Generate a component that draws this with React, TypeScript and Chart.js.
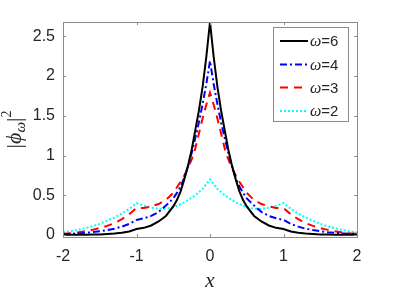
import { useEffect, useRef } from 'react';
import { Chart, registerables } from 'chart.js';

Chart.register(...registerables);

const xValues = [
  -2.0, -1.9, -1.8, -1.7, -1.6, -1.5, -1.4, -1.3, -1.2, -1.1, -1.0, -0.9, -0.8, -0.7, -0.6,
  -0.5, -0.45, -0.4, -0.35, -0.3, -0.25, -0.2, -0.15, -0.1, -0.05, 0,
  0.05, 0.1, 0.15, 0.2, 0.25, 0.3, 0.35, 0.4, 0.45, 0.5,
  0.6, 0.7, 0.8, 0.9, 1.0, 1.1, 1.2, 1.3, 1.4, 1.5, 1.6, 1.7, 1.8, 1.9, 2.0,
];

const omega6 = [
  0.002, 0.002, 0.003, 0.004, 0.005, 0.008, 0.012, 0.018, 0.028, 0.045, 0.075, 0.09, 0.12, 0.17, 0.24,
  0.36, 0.44, 0.55, 0.70, 0.87, 1.07, 1.32, 1.57, 1.87, 2.24, 2.68,
  2.24, 1.87, 1.57, 1.32, 1.07, 0.87, 0.70, 0.55, 0.44, 0.36,
  0.24, 0.17, 0.12, 0.09, 0.075, 0.045, 0.028, 0.018, 0.012, 0.008, 0.005, 0.004, 0.003, 0.002, 0.002,
];

const omega4 = [
  0.011, 0.015, 0.02, 0.027, 0.036, 0.048, 0.062, 0.08, 0.105, 0.14, 0.19, 0.21, 0.24, 0.29, 0.37,
  0.46, 0.53, 0.61, 0.72, 0.86, 1.03, 1.22, 1.42, 1.65, 1.9, 2.19,
  1.9, 1.65, 1.42, 1.22, 1.03, 0.86, 0.72, 0.61, 0.53, 0.46,
  0.37, 0.29, 0.24, 0.21, 0.19, 0.14, 0.105, 0.08, 0.062, 0.048, 0.036, 0.027, 0.02, 0.015, 0.011,
];

const omega3 = [
  0.016, 0.023, 0.033, 0.047, 0.065, 0.088, 0.115, 0.15, 0.2, 0.26, 0.34, 0.34, 0.36, 0.39, 0.44,
  0.53, 0.6, 0.67, 0.75, 0.84, 0.95, 1.09, 1.28, 1.47, 1.64, 1.79,
  1.64, 1.47, 1.28, 1.09, 0.95, 0.84, 0.75, 0.67, 0.6, 0.53,
  0.44, 0.39, 0.36, 0.34, 0.34, 0.26, 0.2, 0.15, 0.115, 0.088, 0.065, 0.047, 0.033, 0.023, 0.016,
];

const omega2 = [
  0.033, 0.046, 0.063, 0.085, 0.11, 0.14, 0.18, 0.22, 0.27, 0.33, 0.40, 0.37, 0.345, 0.33, 0.33,
  0.35, 0.37, 0.39, 0.41, 0.44, 0.47, 0.50, 0.54, 0.58, 0.64, 0.70,
  0.64, 0.58, 0.54, 0.50, 0.47, 0.44, 0.41, 0.39, 0.37, 0.35,
  0.33, 0.33, 0.345, 0.37, 0.40, 0.33, 0.27, 0.22, 0.18, 0.14, 0.11, 0.085, 0.063, 0.046, 0.033,
];

const xTicks = [-2, -1, 0, 1, 2];
const yTicks = [0, 0.5, 1, 1.5, 2, 2.5];
const seriesLabels = ['6', '4', '3', '2'];
const seriesColors = ['#000000', '#0000ff', '#ff0000', '#00ffff'];
const seriesDashes: number[][] = [[], [7, 3, 2, 3], [8, 6], [2, 2]];

const SANS = '"Liberation Sans", Arial, sans-serif';
const SERIF = '"Liberation Serif", "Times New Roman", serif';
const AXIS_COLOR = '#8c8c8c';
const TEXT_COLOR = '#262626';

const decorPlugin = {
  id: 'decor',
  afterDraw(chart: any) {
    const { ctx, chartArea } = chart;
    const { left, right, top, bottom } = chartArea;
    const xs = chart.scales.x;
    const ys = chart.scales.y;
    ctx.save();
    // frame
    ctx.strokeStyle = AXIS_COLOR;
    ctx.lineWidth = 1;
    ctx.setLineDash([]);
    ctx.strokeRect(Math.round(left) + 0.5, Math.round(top) + 0.5, Math.round(right - left), Math.round(bottom - top));
    // inward ticks
    const tl = 3;
    ctx.beginPath();
    xTicks.forEach((v) => {
      const px = Math.round(xs.getPixelForValue(v)) + 0.5;
      ctx.moveTo(px, bottom);
      ctx.lineTo(px, bottom - tl);
      ctx.moveTo(px, top);
      ctx.lineTo(px, top + tl);
    });
    yTicks.forEach((v) => {
      const py = Math.round(ys.getPixelForValue(v)) + 0.5;
      ctx.moveTo(left, py);
      ctx.lineTo(left + tl, py);
      ctx.moveTo(right, py);
      ctx.lineTo(right - tl, py);
    });
    ctx.stroke();

    // x title
    ctx.fillStyle = TEXT_COLOR;
    ctx.font = `italic 21px ${SERIF}`;
    ctx.textAlign = 'center';
    ctx.textBaseline = 'alphabetic';
    ctx.fillText('x', (left + right) / 2, 287);

    // y title |phi_omega|^2
    ctx.save();
    ctx.translate(21, (top + bottom) / 2);
    ctx.rotate(-Math.PI / 2);
    ctx.textAlign = 'left';
    const parts = [
      { t: '|', f: `22px ${SERIF}`, dy: 0 },
      { t: 'ϕ', f: `italic 22px ${SERIF}`, dy: 0 },
      { t: 'ω', f: `italic 15px ${SERIF}`, dy: 4 },
      { t: '|', f: `22px ${SERIF}`, dy: 0 },
      { t: '2', f: `14px ${SERIF}`, dy: -10 },
    ];
    let total = 0;
    const widths = parts.map((p) => {
      ctx.font = p.f;
      const w = ctx.measureText(p.t).width;
      total += w;
      return w;
    });
    let cx = -total / 2;
    parts.forEach((p, i) => {
      ctx.font = p.f;
      ctx.fillText(p.t, cx, p.dy);
      cx += widths[i];
    });
    ctx.restore();

    // legend
    const bx = 273.5, by = 27.5, bw = 75, bh = 94;
    ctx.fillStyle = '#ffffff';
    ctx.fillRect(bx, by, bw, bh);
    ctx.strokeStyle = AXIS_COLOR;
    ctx.lineWidth = 1;
    ctx.strokeRect(bx, by, bw, bh);
    const rowYs = [41, 64.5, 87.5, 111];
    seriesLabels.forEach((lab, i) => {
      const ry = rowYs[i];
      ctx.strokeStyle = seriesColors[i];
      ctx.lineWidth = 2;
      ctx.setLineDash(seriesDashes[i]);
      ctx.beginPath();
      ctx.moveTo(280, ry);
      ctx.lineTo(308, ry);
      ctx.stroke();
      ctx.setLineDash([]);
      ctx.fillStyle = TEXT_COLOR;
      ctx.textBaseline = 'middle';
      ctx.textAlign = 'left';
      ctx.font = `italic 16px ${SERIF}`;
      ctx.fillText('ω', 310, ry + 1);
      const ww = ctx.measureText('ω').width;
      ctx.font = `15px ${SANS}`;
      ctx.fillText('=' + lab, 310 + ww, ry + 1);
    });
    ctx.restore();
  },
};

export default function App() {
  const canvasRef = useRef<HTMLCanvasElement | null>(null);

  useEffect(() => {
    document.body.style.margin = '0';
    const canvas = canvasRef.current;
    if (!canvas) return;
    const datasets = [omega6, omega4, omega3, omega2].map((vals, i) => ({
      label: 'ω=' + seriesLabels[i],
      data: xValues.map((x, j) => ({ x, y: vals[j] })),
      borderColor: seriesColors[i],
      backgroundColor: seriesColors[i],
      borderWidth: 2,
      borderDash: seriesDashes[i],
      pointRadius: 0,
      tension: 0,
      fill: false,
    }));
    const chart = new Chart(canvas, {
      type: 'line',
      data: { datasets },
      options: {
        animation: false,
        responsive: false,
        devicePixelRatio: 1,
        layout: { padding: { left: 0, right: 38, top: 22, bottom: 0 } },
        plugins: {
          legend: { display: false },
          tooltip: { enabled: false },
        },
        scales: {
          x: {
            type: 'linear',
            min: -2,
            max: 2,
            grid: { display: false, drawTicks: false },
            border: { display: false },
            afterBuildTicks: (s: any) => {
              s.ticks = xTicks.map((v) => ({ value: v }));
            },
            afterFit: (s: any) => {
              s.height = 59;
            },
            ticks: {
              color: TEXT_COLOR,
              font: { family: SANS, size: 16 },
              padding: 10,
              maxRotation: 0,
              callback: (v: any) => String(v),
            },
          },
          y: {
            type: 'linear',
            min: -0.025,
            max: 2.68,
            grid: { display: false, drawTicks: false },
            border: { display: false },
            afterBuildTicks: (s: any) => {
              s.ticks = yTicks.map((v) => ({ value: v }));
            },
            afterFit: (s: any) => {
              s.width = 63;
            },
            ticks: {
              color: TEXT_COLOR,
              font: { family: SANS, size: 16 },
              padding: 8,
              callback: (v: any) => String(v),
            },
          },
        },
      },
      plugins: [decorPlugin],
    });
    return () => chart.destroy();
  }, []);

  return (
    <div style={{ position: 'absolute', left: 0, top: 0, width: 395, height: 296, background: '#fff' }}>
      <canvas ref={canvasRef} width={395} height={296} style={{ width: 395, height: 296 }} />
    </div>
  );
}
